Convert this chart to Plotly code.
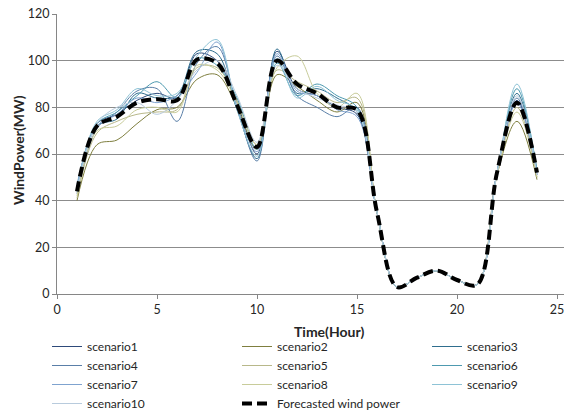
import plotly.graph_objects as go

hours = list(range(1, 25))

forecast = [44, 72, 76, 82, 83.5, 83, 100.5, 99, 81, 63, 100, 90, 86, 80, 79,
            35, 3, 7, 10, 6, 4, 52, 82, 52]

scenario1 = [45, 73, 77, 83, 86, 84, 103, 100, 82, 60, 104, 88, 85, 80, 77,
             35, 3, 7, 10, 6, 4, 52, 83, 51]
scenario2 = [40, 64, 66, 73, 79, 80, 92, 94, 80, 62, 94, 89, 83, 78, 82,
             35, 3, 7, 10, 6, 4, 51, 74, 49]
scenario3 = [46, 72, 75, 86, 84, 85, 104, 103, 79, 58, 105, 86, 88, 84, 78,
             35, 3, 7, 10, 6, 4, 52, 86, 53]
scenario4 = [43, 71, 78, 87, 88, 74, 99, 106, 80, 57, 102, 85, 80, 76, 80,
             35, 3, 7, 10, 6, 4, 52, 84, 52]
scenario5 = [41, 69, 74, 77, 78, 79, 97, 97, 83, 64, 96, 91, 87, 82, 84,
             35, 3, 7, 10, 6, 4, 51, 80, 50]
scenario6 = [44, 73, 78, 85, 91, 84, 101, 98, 84, 62, 99, 85, 90, 85, 80,
             35, 3, 7, 10, 6, 4, 52, 88, 53]
scenario7 = [47, 72, 77, 84, 82, 85, 95, 108, 80, 61, 103, 87, 85, 79, 76,
             35, 3, 7, 10, 6, 4, 52, 82, 51]
scenario8 = [42, 70, 72, 79, 80, 78, 98, 96, 82, 64, 97, 102, 86, 80, 86,
             35, 3, 7, 10, 6, 4, 51, 78, 50]
scenario9 = [45, 74, 79, 88, 85, 86, 102, 109, 79, 59, 101, 84, 89, 83, 79,
             35, 3, 7, 10, 6, 4, 52, 90, 52]
scenario10 = [44, 73, 80, 82, 77, 83, 96, 100, 85, 65, 98, 88, 84, 81, 78,
              35, 3, 7, 10, 6, 4, 52, 85, 51]

scenario_names = ["scenario1", "scenario2", "scenario3", "scenario4", "scenario5",
                  "scenario6", "scenario7", "scenario8", "scenario9", "scenario10"]
scenario_values = [scenario1, scenario2, scenario3, scenario4, scenario5,
                   scenario6, scenario7, scenario8, scenario9, scenario10]
scenario_colors = ["#2E4A7A", "#7F7F3F", "#2F6E8E", "#5A7FA8", "#B8B88A",
                   "#4E9AB0", "#7FA3CF", "#C8CC9A", "#8EC3D6", "#B8CBDD"]
# legend column for each scenario (three columns, filled row by row)
scenario_legends = ["legend", "legend2", "legend3", "legend", "legend2",
                    "legend3", "legend", "legend2", "legend3", "legend"]

y_ticks = [0, 20, 40, 60, 80, 100, 120]
x_ticks = [0, 5, 10, 15, 20, 25]

FONT = "Lato, 'Open Sans', sans-serif"
TXT = "#262626"

fig = go.Figure()
for name, vals, col, lg in zip(scenario_names, scenario_values, scenario_colors,
                               scenario_legends):
    fig.add_trace(go.Scatter(x=hours, y=vals, mode="lines", name=name, legend=lg,
                             line=dict(color=col, width=1, shape="spline", smoothing=1)))
fig.add_trace(go.Scatter(x=hours, y=forecast, mode="lines", name="Forecasted wind power",
                         legend="legend2",
                         line=dict(color="#000000", width=4, shape="spline", smoothing=1,
                                   dash="10px,5px")))

L, R, T, B = 57, 7, 14, 122
PW = 571 - L - R
PH = 416 - T - B


def px_x(px):
    return (px - L) / PW


def px_y(py):
    return (416 - B - py) / PH


leg_common = dict(orientation="v", xanchor="left", yanchor="top",
                  y=px_y(332), bgcolor="rgba(0,0,0,0)", traceorder="normal",
                  font=dict(family=FONT, size=12, color=TXT))

fig.update_layout(
    width=571, height=416,
    margin=dict(l=L, r=R, t=T, b=B, autoexpand=False),
    paper_bgcolor="white", plot_bgcolor="white",
    font=dict(family=FONT, size=12, color=TXT),
    showlegend=True,
    legend=dict(x=px_x(47), **leg_common),
    legend2=dict(x=px_x(237), **leg_common),
    legend3=dict(x=px_x(427), **leg_common),
    xaxis=dict(range=[0, 25.35], tickvals=x_ticks, showgrid=False,
               showline=True, linecolor="#868686", linewidth=1,
               ticks="outside", ticklen=4, tickcolor="#868686",
               tickfont=dict(size=12.5, color=TXT), zeroline=False),
    yaxis=dict(range=[0, 120], tickvals=y_ticks, showgrid=True,
               gridcolor="#8C8C8C", gridwidth=1,
               showline=True, linecolor="#868686", linewidth=1,
               ticks="outside", ticklen=4, tickcolor="#868686",
               tickfont=dict(size=12.5, color=TXT), zeroline=False),
    annotations=[
        dict(text="<b>Time(Hour)</b>", xref="paper", yref="paper",
             x=px_x(329), y=px_y(331), xanchor="center", yanchor="middle",
             showarrow=False, font=dict(family=FONT, size=14, color=TXT)),
        dict(text="<b>WindPower(MW)</b>", xref="paper", yref="paper",
             x=px_x(18), y=px_y(150), xanchor="center", yanchor="middle",
             textangle=-90, showarrow=False,
             font=dict(family=FONT, size=14, color=TXT)),
    ],
)

fig.write_html("out.html")
